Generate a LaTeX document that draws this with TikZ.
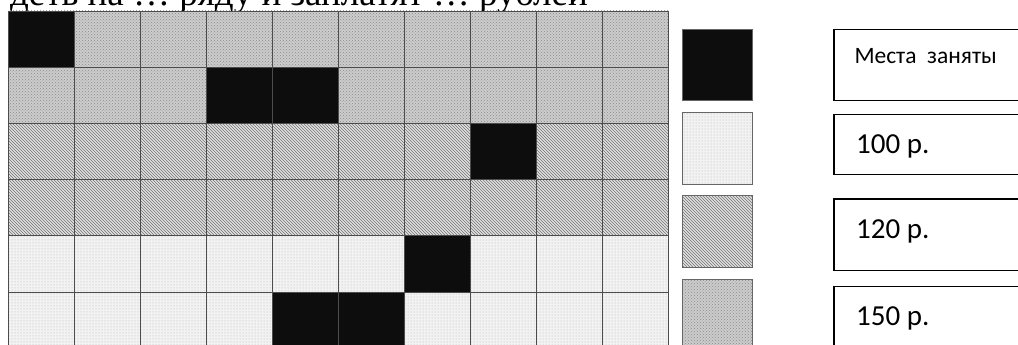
\documentclass[tikz,border=0pt]{standalone}
\usepackage{fontspec}
\setmainfont{Liberation Serif}
\newfontfamily\calibri{Carlito}
\usepackage{tikz}
\usetikzlibrary{patterns, positioning, calc}
\tikzstyle{cell}     = [draw=black!70, line width=0.8pt]
\tikzstyle{taken}    = [cell, fill=black!95]
\tikzstyle{seathigh} = [cell, preaction={fill=black!20}, pattern=crosshatch dots,
                        pattern color=black!45]
\tikzstyle{seatmid}  = [cell, preaction={fill=black!12}, pattern=north west lines,
                        pattern color=black!55]
\tikzstyle{seatlow}  = [cell, preaction={fill=black!5}, pattern=dots,
                        pattern color=black!30]
\tikzstyle{swatch}   = [rectangle, minimum width=70pt, minimum height=71.5pt,
                        inner sep=0pt, line width=0.8pt]
\tikzstyle{pricebox} = [rectangle, draw, anchor=north west, minimum width=210pt,
                        inner sep=0pt, line width=1.2pt]
\tikzstyle{price}    = [anchor=base west, inner sep=0pt,
                        font=\calibri\fontsize{29}{34}\selectfont]

\begin{document}
\begin{tikzpicture}[x=1pt, y=-1pt]
  \useasboundingbox (0,0) rectangle (1018,345);

  \node[anchor=base east, inner sep=0pt, font=\fontsize{37}{40}\selectfont]
    (task) at (588,6) {деть на … ряду и заплатят … рублей};

  % seats by price
  \foreach \r/\kind in {0/seathigh,1/seathigh,2/seatmid,3/seatmid,4/seatlow,5/seatlow}
    \foreach \c in {0,...,9}
      \path[\kind] ({8+66*\c},{11+56.2*\r}) rectangle ++(66,56.2);
  % occupied seats
  \foreach \c/\r in {0/0,3/1,4/1,7/2,6/4,4/5,5/5}
    \path[taken] ({8+66*\c},{11+56.2*\r}) rectangle ++(66,56.2);

  % legend
  \node[swatch, draw=black!60, fill=black!95] (sw0) at (717.3,65) {};
  \node[swatch, draw=black!60, below=11pt of sw0, preaction={fill=black!5},
        pattern=dots, pattern color=black!30] (sw100) {};
  \node[swatch, draw=black!60, below=11pt of sw100, preaction={fill=black!12},
        pattern=north west lines, pattern color=black!55] (sw120) {};
  \node[swatch, draw=black!60, below=11pt of sw120, preaction={fill=black!20},
        pattern=crosshatch dots, pattern color=black!45] (sw150) {};

  \node[pricebox, minimum height=71pt]   (box0)   at (833.3,29)  {};
  \node[pricebox, minimum height=60pt]   (box100) at (833.3,114) {};
  \node[pricebox, minimum height=71.7pt] (box120) at (833.3,198.3) {};
  \node[pricebox, minimum height=71pt]   (box150) at (833.3,286) {};

  \node[anchor=base west, inner sep=0pt, font=\calibri\fontsize{23.5}{28}\selectfont]
    (t0) at ($(box0.north west)+(21,35)$) {Места~ заняты};
  \node[price] (t100) at ($(box100.north west)+(22.7,39)$) {100 р.};
  \node[price] (t120) at ($(box120.north west)+(22.7,40)$) {120 р.};
  \node[price] (t150) at ($(box150.north west)+(22.7,39)$) {150 р.};
\end{tikzpicture}
\end{document}
